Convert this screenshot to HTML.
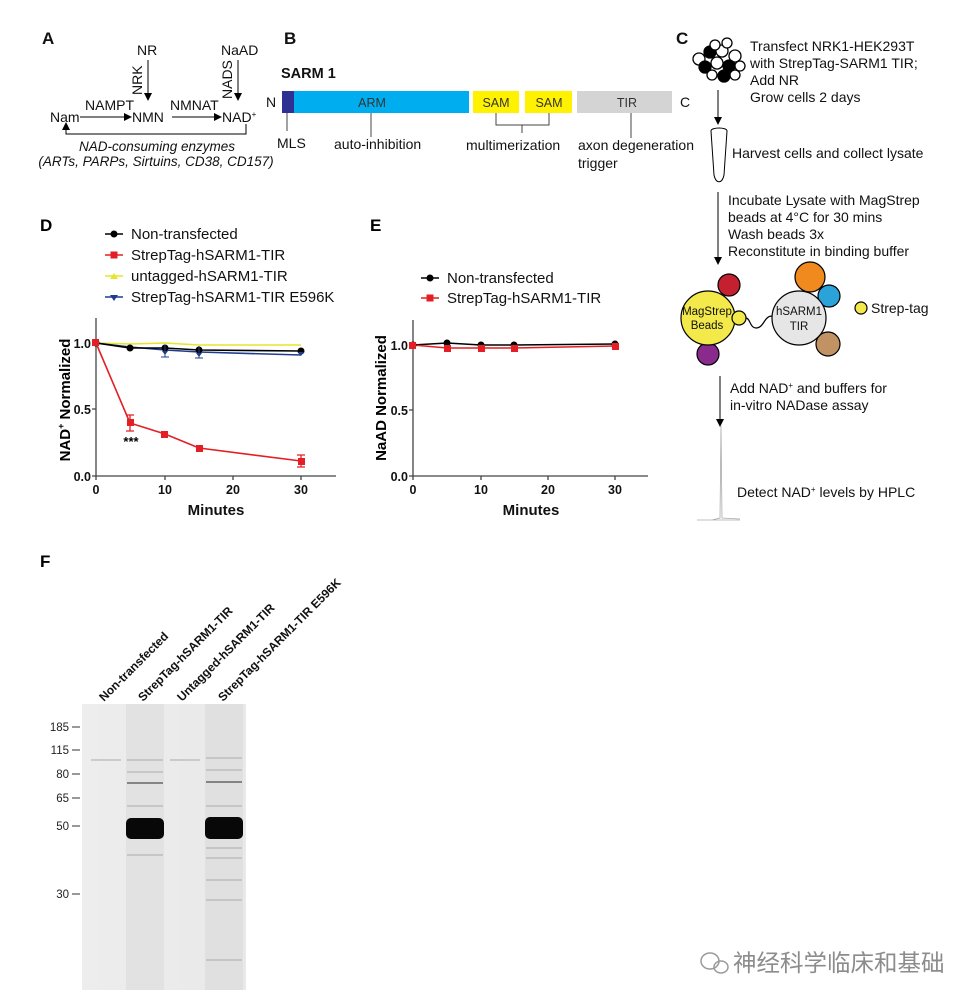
<!DOCTYPE html>
<html><head><meta charset="utf-8"><style>
body{margin:0;background:#fff}
svg{display:block;font-family:"Liberation Sans",Arial,sans-serif}
</style></head><body>
<svg width="980" height="1005" viewBox="0 0 980 1005" xmlns="http://www.w3.org/2000/svg">
<defs>
<marker id="ah" markerWidth="8" markerHeight="8" refX="7" refY="4" orient="auto" markerUnits="userSpaceOnUse"><path d="M0,0 L8,4 L0,8 Z" fill="#000"/></marker>
<linearGradient id="gel" x1="0" x2="1"><stop offset="0" stop-color="#ededed"/><stop offset="1" stop-color="#e9e9e9"/></linearGradient>
</defs>
<g font-size="14" fill="#111">
<!-- A -->
<text x="42" y="44" font-size="17" font-weight="bold">A</text>
<text x="137" y="55">NR</text>
<text x="221" y="55">NaAD</text>
<line x1="148" y1="60" x2="148" y2="100" stroke="#000" marker-end="url(#ah)"/>
<line x1="238" y1="60" x2="238" y2="100" stroke="#000" marker-end="url(#ah)"/>
<text transform="translate(142,95) rotate(-90)">NRK</text>
<text transform="translate(232,99) rotate(-90)">NADS</text>
<text x="50" y="122">Nam</text>
<text x="132" y="122">NMN</text>
<text x="222" y="122">NAD<tspan font-size="8" dy="-5">+</tspan></text>
<text x="85" y="110">NAMPT</text>
<text x="170" y="110">NMNAT</text>
<line x1="80" y1="117" x2="131" y2="117" stroke="#000" marker-end="url(#ah)"/>
<line x1="172" y1="117" x2="221" y2="117" stroke="#000" marker-end="url(#ah)"/>
<path d="M246,124 V134 H66 V123" fill="none" stroke="#000" marker-end="url(#ah)"/>
<text x="157" y="151" font-style="italic" text-anchor="middle" font-size="13.5">NAD-consuming enzymes</text>
<text x="156" y="166" font-style="italic" text-anchor="middle" font-size="13.5">(ARTs, PARPs, Sirtuins, CD38, CD157)</text>
<!-- B -->
<text x="284" y="44" font-size="17" font-weight="bold">B</text>
<text x="281" y="78" font-size="14.5" font-weight="bold">SARM 1</text>
<text x="266" y="107">N</text>
<rect x="282" y="91" width="12" height="22" fill="#2e3192"/>
<rect x="294" y="91" width="175" height="22" fill="#00aeef"/>
<rect x="473" y="91" width="46" height="22" fill="#fff200"/>
<rect x="525" y="91" width="47" height="22" fill="#fff200"/>
<rect x="577" y="91" width="95" height="22" fill="#d4d4d4"/>
<text x="680" y="107">C</text>
<g font-size="12.5" fill="#333" text-anchor="middle">
<text x="372" y="107">ARM</text><text x="496" y="107">SAM</text><text x="549" y="107">SAM</text><text x="627" y="107">TIR</text></g>
<g stroke="#444" fill="none">
<line x1="287" y1="113" x2="287" y2="131"/>
<line x1="371" y1="113" x2="371" y2="137"/>
<path d="M496,113 V125 H549 V113 M522,125 V133"/>
<line x1="631" y1="113" x2="631" y2="138"/>
</g>
<text x="277" y="148">MLS</text>
<text x="334" y="149">auto-inhibition</text>
<text x="466" y="150">multimerization</text>
<text x="578" y="150">axon degeneration</text>
<text x="578" y="168">trigger</text>
<!-- C -->
<text x="676" y="44" font-size="17" font-weight="bold">C</text>
<g stroke="#000" stroke-width="1.3">
<circle cx="699" cy="59" r="6" fill="#fff"/><circle cx="710" cy="52" r="6" fill="#000"/><circle cx="722" cy="51" r="6" fill="#fff"/><circle cx="735" cy="56" r="6" fill="#fff"/>
<circle cx="705" cy="67" r="6" fill="#000"/><circle cx="717" cy="63" r="6" fill="#fff"/><circle cx="729" cy="66" r="6" fill="#000"/><circle cx="740" cy="66" r="5" fill="#fff"/>
<circle cx="712" cy="75" r="5" fill="#fff"/><circle cx="724" cy="76" r="6" fill="#000"/><circle cx="735" cy="75" r="5" fill="#fff"/><circle cx="715" cy="45" r="5" fill="#fff"/><circle cx="727" cy="43" r="5" fill="#fff"/>
</g>
<text x="750" y="51">Transfect NRK1-HEK293T</text>
<text x="750" y="68">with StrepTag-SARM1 TIR;</text>
<text x="750" y="85">Add NR</text>
<text x="750" y="102">Grow cells 2 days</text>
<line x1="718" y1="90" x2="718" y2="124" stroke="#000" marker-end="url(#ah)"/>
<path d="M711,131 C711,127 727,127 727,131 L724,175 C722,184 716,184 714,175 Z" fill="#fff" stroke="#000"/>
<text x="732" y="158">Harvest cells and collect lysate</text>
<line x1="718" y1="192" x2="718" y2="264" stroke="#000" marker-end="url(#ah)"/>
<text x="728" y="205">Incubate Lysate with MagStrep</text>
<text x="728" y="222">beads at 4°C for 30 mins</text>
<text x="728" y="239">Wash beads 3x</text>
<text x="728" y="256">Reconstitute in binding buffer</text>
<g stroke="#000" stroke-width="1.2">
<circle cx="729" cy="285" r="11" fill="#c4202f"/>
<circle cx="708" cy="354" r="11" fill="#8a2a8c"/>
<circle cx="708" cy="318" r="27" fill="#f3e94a"/>
<circle cx="739" cy="318" r="7" fill="#f3e94a"/>
<path d="M746,318 c4,0 4,10 10,10 c8,0 8,-12 16,-12" fill="none"/>
<circle cx="810" cy="277" r="15" fill="#f0891e"/>
<circle cx="829" cy="296" r="11" fill="#2ba3d9"/>
<circle cx="828" cy="344" r="12" fill="#c09264"/>
<circle cx="799" cy="318" r="27" fill="#e6e6e6"/>
<circle cx="861" cy="308" r="6" fill="#f3e94a"/>
</g>
<g font-size="11.5" text-anchor="middle"><text x="707" y="315">MagStrep</text><text x="707" y="329">Beads</text><text x="799" y="315">hSARM1</text><text x="799" y="330">TIR</text></g>
<text x="871" y="313">Strep-tag</text>
<line x1="720" y1="376" x2="720" y2="426" stroke="#000" marker-end="url(#ah)"/>
<text x="730" y="393">Add NAD<tspan font-size="8" dy="-5">+</tspan><tspan dy="5"> and buffers for</tspan></text>
<text x="730" y="410">in-vitro NADase assay</text>
<path d="M697,520 H740 M712,520 L720,518 L721,426 L722,518 L740,519" fill="none" stroke="#aaa" stroke-width="0.8"/>
<text x="737" y="497">Detect NAD<tspan font-size="8" dy="-5">+</tspan><tspan dy="5"> levels by HPLC</tspan></text>
</g>

<!-- D -->
<g font-family="Liberation Sans,Arial,sans-serif">
<text x="40" y="231" font-size="17" font-weight="bold">D</text>
<g font-size="15" fill="#111">
<line x1="105" y1="234" x2="123" y2="234" stroke="#000" stroke-width="1.5"/><circle cx="114" cy="234" r="3.5" fill="#000"/>
<text x="131" y="239">Non-transfected</text>
<line x1="105" y1="255" x2="123" y2="255" stroke="#e31e24" stroke-width="1.5"/><rect x="110.5" y="251.5" width="7" height="7" fill="#e31e24"/>
<text x="131" y="260">StrepTag-hSARM1-TIR</text>
<line x1="105" y1="276" x2="123" y2="276" stroke="#e5e52a" stroke-width="1.5"/><path d="M110,279 L114,273 L118,279Z" fill="#e5e52a"/>
<text x="131" y="281">untagged-hSARM1-TIR</text>
<line x1="105" y1="297" x2="123" y2="297" stroke="#1f3c8f" stroke-width="1.5"/><path d="M110,295 L114,301 L118,295Z" fill="#1f3c8f"/>
<text x="131" y="302">StrepTag-hSARM1-TIR E596K</text>
</g>
<g stroke="#444" stroke-width="1.3" fill="none">
<path d="M96,318 V476 H336"/>
<path d="M92,343 H96 M92,409 H96 M92,476 H96 M96,476 v4 M165,476 v4 M233,476 v4 M301,476 v4"/>
</g>
<g font-size="12.5" font-weight="bold" fill="#111" text-anchor="end">
<text x="91" y="348">1.0</text><text x="91" y="414">0.5</text><text x="91" y="481">0.0</text></g>
<g font-size="12.5" font-weight="bold" fill="#111" text-anchor="middle">
<text x="96" y="494">0</text><text x="165" y="494">10</text><text x="233" y="494">20</text><text x="301" y="494">30</text>
<text x="216" y="515" font-size="15">Minutes</text></g>
<text transform="translate(70,400) rotate(-90)" font-size="15" font-weight="bold" text-anchor="middle">NAD<tspan font-size="9" dy="-6">+</tspan><tspan dy="6"> Normalized</tspan></text>
<polyline points="96,343 130,344 165,343 199,345 301,345" fill="none" stroke="#e5e52a" stroke-width="1.6"/>
<polyline points="96,343 130,347 165,350 199,352 301,355" fill="none" stroke="#1f3c8f" stroke-width="1.6"/>
<polyline points="96,343 130,348 165,348 199,350 301,351" fill="none" stroke="#000" stroke-width="1.6"/>
<g fill="#000"><circle cx="96" cy="343" r="3.5"/><circle cx="130" cy="348" r="3.5"/><circle cx="165" cy="348" r="3.5"/><circle cx="199" cy="350" r="3.5"/><circle cx="301" cy="351" r="3.5"/></g>
<path d="M301,356 l-3,-4 h6 Z M165,355 l-3,-4 h6 Z M199,357 l-3,-4 h6Z" fill="#1f3c8f"/>
<path d="M165,345 v12 M161,357 h8 M199,346 v12 M195,358 h8" stroke="#1f3c8f"/>
<polyline points="96,343 130,423 165,434 199,448 301,461" fill="none" stroke="#e31e24" stroke-width="1.6"/>
<g fill="#e31e24"><rect x="92" y="339" width="7" height="7"/><rect x="127" y="419" width="7" height="7"/><rect x="161" y="431" width="7" height="7"/><rect x="196" y="445" width="7" height="7"/><rect x="298" y="458" width="7" height="7"/></g>
<path d="M130,415 v16 M126,415 h8 M126,431 h8 M301,455 v12 M297,455 h8 M297,467 h8" stroke="#e31e24" stroke-width="1.3"/>
<text x="131" y="446" font-size="13" font-weight="bold" text-anchor="middle">***</text>

<!-- E -->
<text x="370" y="231" font-size="17" font-weight="bold">E</text>
<g font-size="15" fill="#111">
<line x1="421" y1="278" x2="439" y2="278" stroke="#000" stroke-width="1.5"/><circle cx="430" cy="278" r="3.5" fill="#000"/>
<text x="447" y="283">Non-transfected</text>
<line x1="421" y1="298" x2="439" y2="298" stroke="#e31e24" stroke-width="1.5"/><rect x="426.5" y="294.5" width="7" height="7" fill="#e31e24"/>
<text x="447" y="303">StrepTag-hSARM1-TIR</text>
</g>
<g stroke="#444" stroke-width="1.3" fill="none">
<path d="M413,320 V476 H648"/>
<path d="M409,345 H413 M409,410 H413 M409,476 H413 M413,476 v4 M481,476 v4 M548,476 v4 M615,476 v4"/>
</g>
<g font-size="12.5" font-weight="bold" fill="#111" text-anchor="end">
<text x="408" y="350">1.0</text><text x="408" y="415">0.5</text><text x="408" y="481">0.0</text></g>
<g font-size="12.5" font-weight="bold" fill="#111" text-anchor="middle">
<text x="413" y="494">0</text><text x="481" y="494">10</text><text x="548" y="494">20</text><text x="615" y="494">30</text>
<text x="531" y="515" font-size="15">Minutes</text></g>
<text transform="translate(386,398) rotate(-90)" font-size="15" font-weight="bold" text-anchor="middle">NaAD Normalized</text>
<polyline points="413,345 447,343 481,345 514,345 615,344" fill="none" stroke="#000" stroke-width="1.6"/>
<polyline points="413,345 447,348 481,348 514,348 615,346" fill="none" stroke="#e31e24" stroke-width="1.6"/>
<g fill="#000"><circle cx="413" cy="345" r="3.5"/><circle cx="447" cy="343" r="3.5"/><circle cx="481" cy="345" r="3.5"/><circle cx="514" cy="345" r="3.5"/><circle cx="615" cy="344" r="3.5"/></g>
<g fill="#e31e24"><rect x="409" y="342" width="7" height="7"/><rect x="444" y="345" width="7" height="7"/><rect x="478" y="345" width="7" height="7"/><rect x="511" y="345" width="7" height="7"/><rect x="612" y="343" width="7" height="7"/></g>

<!-- F -->
<text x="40" y="567" font-size="17" font-weight="bold">F</text>
<g font-size="12" font-weight="bold" fill="#111">
<text transform="translate(104,702) rotate(-45)">Non-transfected</text>
<text transform="translate(143,702) rotate(-45)">StrepTag-hSARM1-TIR</text>
<text transform="translate(182,702) rotate(-45)">Untagged-hSARM1-TIR</text>
<text transform="translate(223,702) rotate(-45)">StrepTag-hSARM1-TIR E596K</text>
</g>
<rect x="82" y="704" width="164" height="286" fill="url(#gel)"/>
<rect x="126" y="704" width="38" height="286" fill="#e2e2e2"/>
<rect x="205" y="704" width="38" height="286" fill="#e0e0e0"/>
<g stroke="#aaa" stroke-width="1">
<path d="M127,760 h36 M127,772 h36 M206,758 h36 M206,770 h36 M127,806 h36 M206,806 h36 M127,855 h36 M206,848 h36 M206,858 h36 M206,880 h36 M206,900 h36 M206,960 h36 M91,760 h30 M170,760 h30"/>
</g>
<g stroke="#666" stroke-width="1.5"><path d="M127,783 h36 M206,782 h36"/></g>
<rect x="126" y="818" width="38" height="21" rx="5" fill="#080808"/>
<rect x="205" y="817" width="38" height="22" rx="5" fill="#080808"/>
<g font-size="11.5" fill="#222" text-anchor="end">
<text x="69" y="731">185</text><text x="69" y="754">115</text><text x="69" y="778">80</text><text x="69" y="802">65</text><text x="69" y="830">50</text><text x="69" y="898">30</text></g>
<g stroke="#333"><path d="M72,727 h8 M72,750 h8 M72,774 h8 M72,798 h8 M72,826 h8 M72,894 h8"/></g>

<!-- watermark -->
<g fill="none" stroke="#9a9a9a" stroke-width="1.5"><ellipse cx="710" cy="961" rx="9" ry="8"/><ellipse cx="721" cy="967" rx="7" ry="6"/></g>
<text x="733" y="971" font-size="23.5" fill="#8c8c8c" font-family="Noto Sans CJK SC,sans-serif">神经科学临床和基础</text>
</g>
</svg>
</body></html>
